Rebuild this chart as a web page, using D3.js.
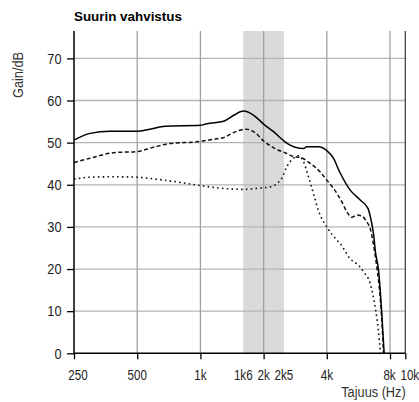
<!DOCTYPE html>
<html>
<head>
<meta charset="utf-8">
<script src="https://cdn.jsdelivr.net/npm/d3@7/dist/d3.min.js"></script>
<style>
  html, body { margin: 0; padding: 0; background: #fff; }
  svg { display: block; }
  text { font-family: 'Liberation Sans', Arial, sans-serif; }
</style>
</head>
<body>
<div id="chart"></div>
<script>
// ---- data ----
const title = "Suurin vahvistus";
const yTitle = "Gain/dB";
const xTitle = "Tajuus (Hz)";
const xEnd = 9460;  // right edge of the chart, labelled "10k"
const xTickValues = [250, 500, 1000, 2000, 4000, 8000, xEnd];
const xLabelValues = [250, 500, 1000, 1600, 2000, 2500, 4000, 8000, xEnd];
const xLabels = ["250", "500", "1k", "1k6", "2k", "2k5", "4k", "8k", "10k"];
const yTickValues = [0, 10, 20, 30, 40, 50, 60, 70];
const yMax = 76.5;
const band = [1600, 2500];

const freqSolid = [250, 298, 371, 500, 575, 679, 1000, 1072, 1291, 1441, 1600, 1795, 2000, 2230, 2530, 2830, 3100, 3200, 3650, 4000, 4300, 4600, 5160, 5770, 6280, 6500, 6700, 6800, 7050, 7300, 7500];
const solid = [50.6, 52.2, 52.7, 52.7, 53.2, 53.9, 54.1, 54.5, 55.1, 56.5, 57.5, 56.5, 54.4, 52.6, 50.2, 48.9, 48.6, 49.0, 49.0, 48.1, 46.3, 43.1, 38.8, 36.4, 34.4, 31.6, 27.7, 24.5, 19.8, 9.9, 0];

const freqDashed = [250, 298, 384, 500, 597, 717, 960, 1160, 1290, 1440, 1650, 1830, 2000, 2270, 2530, 2770, 2980, 3330, 3710, 4000, 4300, 4710, 4980, 5260, 5550, 5870, 6200, 6430, 6660, 6900, 7100, 7350, 7450];
const dashed = [45.3, 46.3, 47.6, 47.9, 48.9, 49.8, 50.2, 50.8, 51.2, 52.4, 53.2, 52.3, 50.4, 48.6, 47.6, 46.7, 46.5, 45.1, 43.1, 41.1, 39.2, 36.0, 33.6, 32.3, 32.8, 32.6, 31.2, 29.7, 26.1, 21.0, 16.0, 6.0, 0];

const freqDotted = [250, 298, 384, 500, 597, 770, 1000, 1245, 1600, 1900, 2150, 2440, 2580, 2780, 2920, 3090, 3270, 3450, 3640, 4000, 4460, 4620, 5160, 5760, 5970, 6430, 6790, 7040, 7200];
const dotted = [41.3, 41.8, 41.9, 41.8, 41.4, 40.7, 39.8, 39.2, 38.9, 39.2, 39.5, 41.5, 44.3, 46.3, 46.9, 45.6, 41.9, 38.0, 34.0, 30.0, 26.9, 26.1, 22.5, 20.5, 19.4, 16.6, 11.1, 5.5, 0];

// ---- layout ----
const W = 419, H = 402;
const mLeft = 74, mRight = 405.3, mTop = 31, mBottom = 353.3;

const svg = d3.select("#chart").append("svg").attr("width", W).attr("height", H);

const x = d3.scaleLog().domain([250, xEnd]).range([mLeft, mRight]);
const y = d3.scaleLinear().domain([0, yMax]).range([mBottom, mTop]);

// condensed text helper (narrow face emulated by horizontal scaling)
function ctext(parent, px, py, str, size, sx, anchor, rot) {
  const g = parent.append("g")
    .attr("transform", `translate(${px},${py})` + (rot ? ` rotate(${rot})` : "") + ` scale(${sx},1)`);
  return g.append("text").attr("x", 0).attr("y", 0)
    .attr("text-anchor", anchor).attr("font-size", size).attr("fill", "#222").text(str);
}

// shaded band
svg.append("rect")
  .attr("x", x(band[0])).attr("y", mTop)
  .attr("width", x(band[1]) - x(band[0])).attr("height", mBottom - mTop)
  .attr("fill", "#d9dadb");

// grid
svg.append("g").selectAll("line").data(yTickValues.filter(d => d > 0)).join("line")
  .attr("x1", mLeft).attr("x2", mRight)
  .attr("y1", d => y(d)).attr("y2", d => y(d))
  .attr("stroke", "#b4b4b4").attr("stroke-width", 1.3);
svg.append("g").selectAll("line").data(xTickValues.filter(d => d > 250 && d < xEnd)).join("line")
  .attr("x1", d => x(d)).attr("x2", d => x(d))
  .attr("y1", mTop).attr("y2", mBottom)
  .attr("stroke", "#a0a0a0").attr("stroke-width", 1.3);

// right border
svg.append("line").attr("x1", mRight).attr("x2", mRight).attr("y1", mTop).attr("y2", mBottom)
  .attr("stroke", "#444").attr("stroke-width", 1.3);

// series
const line = (fx, vals) => d3.line()
  .x((d, i) => x(fx[i])).y(d => y(d))
  .curve(d3.curveMonotoneX)(vals);

svg.append("path").attr("d", line(freqDotted, dotted))
  .attr("fill", "none").attr("stroke", "#111").attr("stroke-width", 1.6)
  .attr("stroke-dasharray", "1.6,3.2");
svg.append("path").attr("d", line(freqDashed, dashed))
  .attr("fill", "none").attr("stroke", "#111").attr("stroke-width", 1.5)
  .attr("stroke-dasharray", "4,2.5");
svg.append("path").attr("d", line(freqSolid, solid))
  .attr("fill", "none").attr("stroke", "#000").attr("stroke-width", 1.5);

// y axis
const yAxis = svg.append("g").attr("transform", `translate(${mLeft},0)`)
  .call(d3.axisLeft(y).tickValues(yTickValues).tickSize(7).tickFormat(""));
yAxis.select(".domain").attr("d", `M0,${mTop}V${mBottom}`).attr("stroke", "#000").attr("stroke-width", 1.5);
yAxis.selectAll(".tick line").attr("stroke", "#000").attr("stroke-width", 1.3);
const yLab = svg.append("g");
yTickValues.forEach(v => ctext(yLab, 61.5, y(v) + 5.2, String(v), 14.5, 0.88, "end"));

// x axis
const xAxis = svg.append("g").attr("transform", `translate(0,${mBottom})`)
  .call(d3.axisBottom(x).tickValues(xTickValues).tickSize(6).tickFormat(""));
xAxis.select(".domain").attr("d", `M${mLeft},0H${mRight}`).attr("stroke", "#000").attr("stroke-width", 1.5);
xAxis.selectAll(".tick line").attr("stroke", "#000").attr("stroke-width", 1.3);

const xLab = svg.append("g");
xLabelValues.forEach((v, i) => {
  const dx = i === 0 ? 4 : (i === xLabelValues.length - 1 ? 4.5 : (i === xLabelValues.length - 2 ? -0.5 : 0));
  ctext(xLab, x(v) + dx, 380.3, xLabels[i], 14.5, 0.8, "middle");
});

// titles
svg.append("text").attr("x", mLeft).attr("y", 20.7)
  .attr("font-weight", "bold").attr("font-size", 13.4).attr("fill", "#000")
  .text(title);

ctext(svg, 23, 75, yTitle, 15, 0.85, "middle", -90).attr("fill", "#333");
ctext(svg, 405.7, 397, xTitle, 14.5, 0.88, "end").attr("fill", "#333");
</script>
</body>
</html>
